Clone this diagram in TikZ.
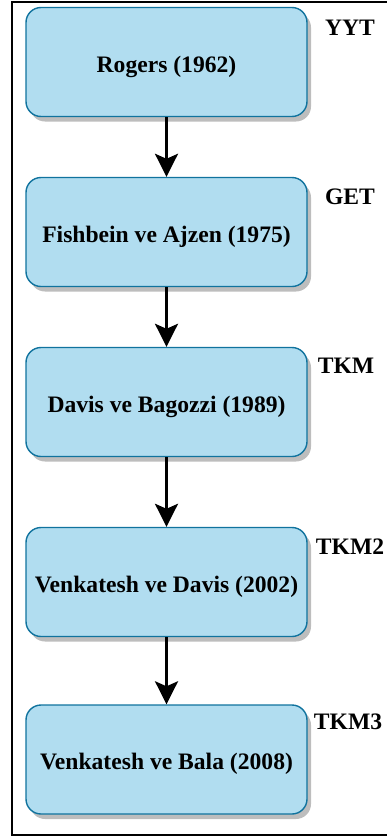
\documentclass[tikz,border=0pt]{standalone}
\usepackage{fontspec}
\setmainfont{Liberation Serif}
\usetikzlibrary{arrows.meta,shadows}
\definecolor{boxfill}{HTML}{B1DDF0}
\definecolor{boxline}{HTML}{10739E}
\definecolor{shade}{HTML}{BDBDBD}
\begin{document}
\begin{tikzpicture}[x=1pt,y=-1pt,
  stage/.style={draw=boxline,line width=1.4pt,fill=boxfill,rounded corners=15pt,
    minimum width=281pt,minimum height=109pt,inner sep=0pt,
    text height=20pt,text depth=0pt,
    font=\fontsize{23.6}{28}\selectfont\bfseries,
    drop shadow={shadow xshift=4pt,shadow yshift=-5pt,fill=shade,opacity=1}},
  tag/.style={inner sep=0pt,font=\fontsize{23.6}{28}\selectfont\bfseries},
  flow/.style={line width=3pt,-{Stealth[length=23pt,width=23pt,inset=5pt]}}]
  \useasboundingbox (0,0) rectangle (387,838);
  % outer frame (open to the right)
  \draw[line width=2pt] (400,2) -- (12,2) -- (12,835) -- (400,835);
  % model stages
  \node[stage] (s1) at (166.5,62)  {Rogers (1962)};
  \node[stage] (s2) at (166.5,232) {Fishbein ve Ajzen (1975)};
  \node[stage] (s3) at (166.5,402) {Davis ve Bagozzi (1989)};
  \node[stage] (s4) at (166.5,582) {Venkatesh ve Davis (2002)};
  \node[stage] (s5) at (166.5,759.5) {Venkatesh ve Bala (2008)};
  % model abbreviations
  \node[tag] (t1) at (350,28)  {YYT};
  \node[tag] (t2) at (350,197) {GET};
  \node[tag] (t3) at (346,366) {TKM};
  \node[tag] (t4) at (350,547) {TKM2};
  \node[tag] (t5) at (348,722) {TKM3};
  % sequence arrows
  \draw[flow] (s1.south) -- (s2.north);
  \draw[flow] (s2.south) -- (s3.north);
  \draw[flow] (s3.south) -- (s4.north);
  \draw[flow] (s4.south) -- (s5.north);
\end{tikzpicture}
\end{document}
